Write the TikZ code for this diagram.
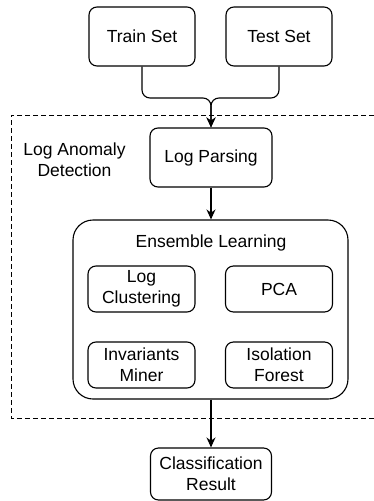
\documentclass[tikz,border=0pt]{standalone}
\usepackage{fontspec}
\setmainfont{Liberation Sans}
\usetikzlibrary{arrows.meta}

\begin{document}
\begin{tikzpicture}[x=1pt,y=-1pt,>={Stealth[length=10pt,width=9pt]},
        font=\fontsize{17.5}{21}\selectfont,
        box/.style={draw,rounded corners=8pt,line width=1.1pt,align=center,inner sep=0pt},
        small/.style={box,minimum width=107pt,minimum height=46pt},
        flow/.style={->,line width=1.1pt,rounded corners=8pt},
        region/.style={line width=1pt,dash pattern=on 5pt off 3pt}]

        % Canvas (pixel units, y pointing down)
        \useasboundingbox (0,0) rectangle (373,501);

        % Input data sets
        \node[box,minimum width=106pt,minimum height=59pt] (train) at (142,36.5) {Train Set};
        \node[box,minimum width=106pt,minimum height=59pt] (test) at (279,36.5) {Test Set};

        % Detection region (dashed, runs off the right edge)
        \draw[region] (374,115) -- (11,115) -- (11,418) -- (374,418);
        \node[align=center] (region) at (74.5,159.5) {Log Anomaly\\Detection};

        % Parsing step
        \node[box,minimum width=122pt,minimum height=59pt] (parse) at (211,157.5) {Log Parsing};

        % Ensemble of detectors
        \node[box,rounded corners=20pt,minimum width=275pt,minimum height=179pt] (ensemble) at (210.5,309.5) {};
        \node (enslabel) at (211,243) {Ensemble Learning};
        \node[small] (clust) at (141.5,289) {Log\\Clustering};
        \node[small] (pca) at (279,289) {PCA};
        \node[small] (inv) at (141.5,365) {Invariants\\Miner};
        \node[small] (iso) at (279,365) {Isolation\\Forest};

        % Output
        \node[box,minimum width=121pt,minimum height=52pt] (result) at (211,474) {Classification\\Result};

        % Connectors
        \coordinate (merge) at (211,98);
        \draw[flow] (train.south) -- (train.south |- merge) -- (merge) -- (parse.north);
        \draw[flow] (test.south) -- (test.south |- merge) -- (merge) -- (parse.north);
        \draw[flow] (parse.south) -- (ensemble.north -| parse.south);
        \draw[flow] (ensemble.south -| result.north) -- (result.north);

\end{tikzpicture}
\end{document}
